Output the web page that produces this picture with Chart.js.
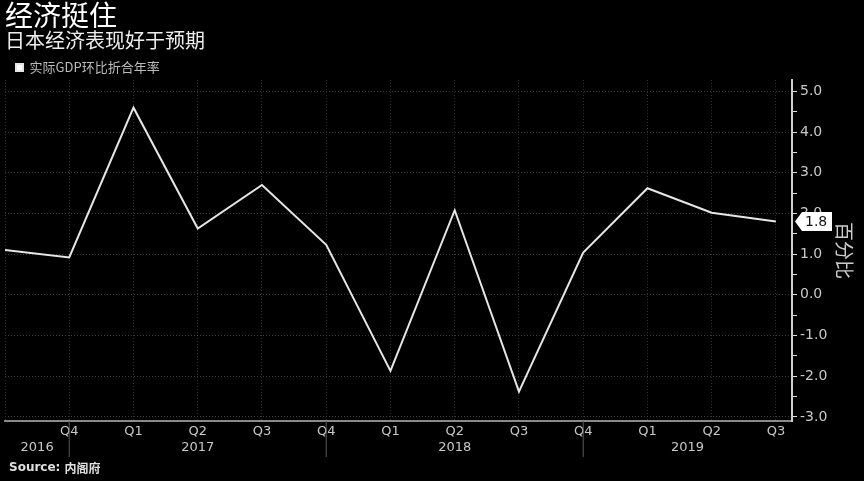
<!DOCTYPE html>
<html>
<head>
<meta charset="utf-8">
<script src="https://cdn.jsdelivr.net/npm/chart.js@4"></script>
<style>
  html, body { margin: 0; padding: 0; background: #000; }
  #wrap { width: 864px; height: 481px; position: relative; }
</style>
</head>
<body>
<div id="wrap"><canvas id="gdpChart"></canvas></div>
<script>
// Japan real GDP, q/q annualized (%)
const quarters = ['Q3', 'Q4', 'Q1', 'Q2', 'Q3', 'Q4', 'Q1', 'Q2', 'Q3', 'Q4', 'Q1', 'Q2', 'Q3'];
const years = [2016, 2016, 2017, 2017, 2017, 2017, 2018, 2018, 2018, 2018, 2019, 2019, 2019];
const gdpGrowth = [1.1, 0.92, 4.6, 1.63, 2.7, 1.23, -1.87, 2.08, -2.38, 1.04, 2.62, 2.02, 1.8];
const yearLabels = ['2016', '2017', '2018', '2019'];

const CJK = '"Noto Sans CJK SC", sans-serif';
const SANS = '"DejaVu Sans", sans-serif';

// year separators, year labels, source line and last-value tag
const extras = {
    id: 'extras',
    afterDraw(chart) {
        const ctx = chart.ctx;
        const xs = chart.scales.x;
        const ys = chart.scales.y;
        const area = chart.chartArea;

        ctx.save();
        // separators below the axis at each Q4
        const seps = [];
        quarters.forEach((q, i) => {
            if (q === 'Q4') seps.push(xs.getPixelForValue(i));
        });
        ctx.strokeStyle = '#5a5a5a';
        ctx.lineWidth = 1;
        seps.forEach(px => {
            ctx.beginPath();
            ctx.moveTo(px, area.bottom);
            ctx.lineTo(px, 457);
            ctx.stroke();
        });

        // year labels centred between separators
        ctx.fillStyle = '#c8c8c8';
        ctx.font = '13px ' + SANS;
        ctx.textAlign = 'center';
        ctx.textBaseline = 'middle';
        const bounds = [area.left].concat(seps, [area.right]);
        yearLabels.forEach((y, i) => {
            ctx.fillText(y, (bounds[i] + bounds[i + 1]) / 2, 448);
        });

        // source
        ctx.textAlign = 'left';
        ctx.fillStyle = '#e0e0e0';
        ctx.font = 'bold 12px ' + SANS;
        ctx.fillText('Source: ', 9, 468);
        const w = ctx.measureText('Source: ').width;
        ctx.font = 'bold 12px ' + CJK;
        ctx.fillText('内阁府', 9 + w, 468);

        // last value tag
        const last = gdpGrowth[gdpGrowth.length - 1];
        const py = ys.getPixelForValue(last);
        const bx = area.right + 3;
        ctx.fillStyle = '#ffffff';
        ctx.beginPath();
        ctx.moveTo(bx, py);
        ctx.lineTo(bx + 7, py - 9.5);
        ctx.lineTo(bx + 37, py - 9.5);
        ctx.lineTo(bx + 37, py + 9.5);
        ctx.lineTo(bx + 7, py + 9.5);
        ctx.closePath();
        ctx.fill();
        ctx.fillStyle = '#111111';
        ctx.font = '14px ' + SANS;
        ctx.fillText(last.toFixed(1), bx + 10, py + 1);
        ctx.restore();
    }
};

const ctx = document.getElementById('gdpChart').getContext('2d');

new Chart(ctx, {
    type: 'line',
    data: {
        datasets: [{
            label: '实际GDP环比折合年率',
            data: gdpGrowth.map((v, i) => ({ x: i, y: v })),
            borderColor: '#e6e6e6',
            backgroundColor: '#ffffff',
            borderWidth: 2,
            pointRadius: 0,
            tension: 0
        }]
    },
    options: {
        responsive: true,
        maintainAspectRatio: false,
        animation: false,
        layout: { padding: { left: 5, right: 0, top: 0, bottom: 0 } },
        plugins: {
            title: {
                display: true,
                text: '经济挺住',
                align: 'start',
                color: '#ffffff',
                font: { family: CJK, size: 28, weight: 'normal', lineHeight: 1.0 },
                padding: { top: 1, bottom: 0 }
            },
            subtitle: {
                display: true,
                text: '日本经济表现好于预期',
                align: 'start',
                color: '#eeeeee',
                font: { family: CJK, size: 20, weight: 'normal', lineHeight: 1.0 },
                padding: { top: 1, bottom: 0 }
            },
            legend: {
                display: true,
                align: 'start',
                maxHeight: 30,
                labels: {
                    color: '#bbbbbb',
                    font: { family: CJK, size: 13 },
                    boxWidth: 7,
                    boxHeight: 7,
                    padding: 11
                }
            },
            tooltip: { enabled: false }
        },
        scales: {
            x: {
                type: 'linear',
                min: 0,
                max: 12.25,
                afterFit: s => { s.height = 60; },
                grid: {
                    color: '#2e2e2e',
                    lineWidth: 1,
                    drawTicks: false
                },
                border: { display: true, color: '#8a8a8a', width: 2, dash: [1, 2] },
                ticks: {
                    stepSize: 1,
                    includeBounds: false,
                    autoSkip: false,
                    maxRotation: 0,
                    padding: 3,
                    color: '#c8c8c8',
                    font: { family: SANS, size: 13 },
                    callback: v => (Number.isInteger(v) && v > 0 && v < quarters.length) ? quarters[v] : ''
                }
            },
            y: {
                position: 'right',
                min: -3.1,
                max: 5.28,
                afterFit: s => { s.width = 72; },
                grid: {
                    color: c => Math.abs(c.tick.value - Math.round(c.tick.value)) < 1e-6 ? '#3a3a3a' : 'transparent',
                    tickColor: '#dddddd',
                    tickLength: 5,
                    lineWidth: 1
                },
                border: { display: true, color: '#cfcfcf', width: 2, dash: [1, 2] },
                ticks: {
                    stepSize: 0.5,
                    includeBounds: false,
                    autoSkip: false,
                    padding: 3,
                    color: '#c8c8c8',
                    font: { family: SANS, size: 14 },
                    callback: v => Math.abs(v - Math.round(v)) < 1e-6 ? v.toFixed(1) : ''
                },
                title: {
                    display: true,
                    text: '百分比',
                    color: '#cccccc',
                    font: { family: CJK, size: 19 },
                    padding: { top: 8, bottom: 0 }
                }
            }
        }
    },
    plugins: [extras]
});
</script>
</body>
</html>
